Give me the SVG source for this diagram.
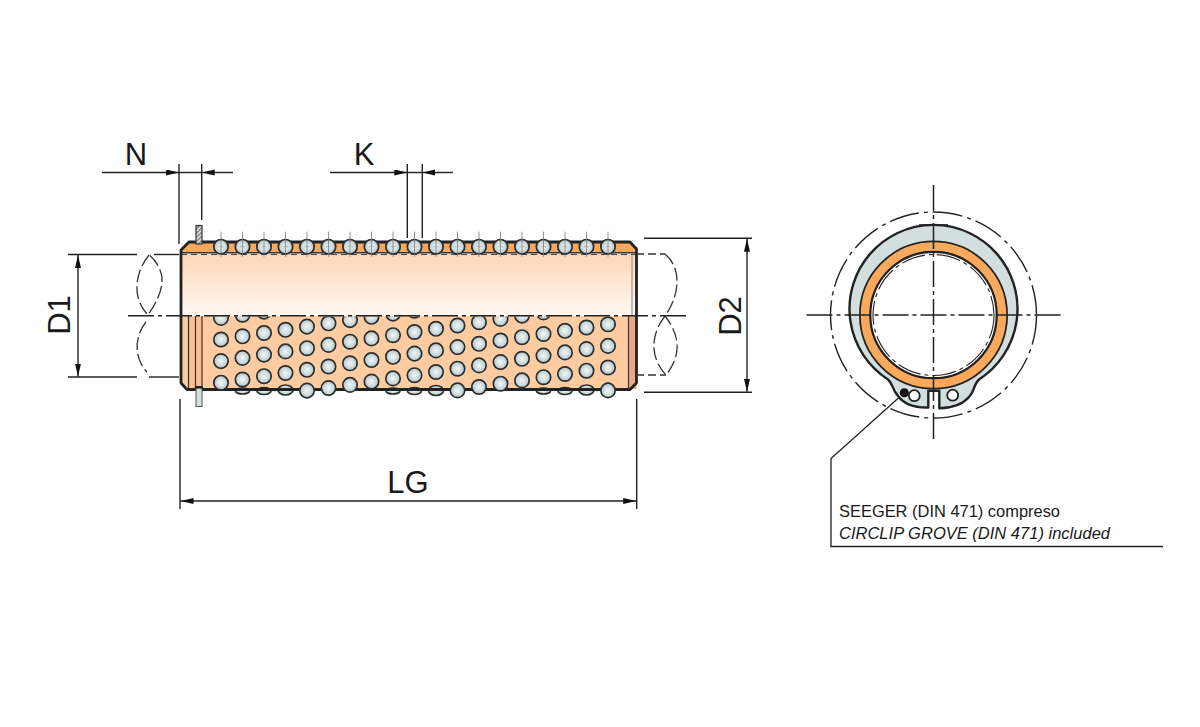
<svg xmlns="http://www.w3.org/2000/svg" width="1200" height="727" viewBox="0 0 1200 727">
<style>
.t{font-family:"Liberation Sans",Arial,sans-serif;fill:#1a1a1a}
.big{font-size:31px}
.small{font-size:17px}
.dim{stroke:#222;stroke-width:1.4;fill:none}
.arr{marker-end:url(#a)}
.brk{stroke:#333;stroke-width:1.3;fill:none;stroke-dasharray:13 4}
.cen{stroke:#222;stroke-width:1.5;fill:none;stroke-dasharray:26 4 4 4}
.out{stroke:#222;stroke-width:2.8;fill:none;stroke-linejoin:round}
.ball{fill:url(#bg);stroke:#2a2e2f;stroke-width:1.7}
</style>
<defs>
<radialGradient id="bg" cx="50%" cy="50%" r="55%"><stop offset="0" stop-color="#f4f8f8"/><stop offset="1" stop-color="#aec3c6"/></radialGradient>
<linearGradient id="up" x1="0" y1="0" x2="0" y2="1"><stop offset="0" stop-color="#ffd6b6"/><stop offset="1" stop-color="#fff8f2"/></linearGradient>
<pattern id="hatch" width="3" height="3" patternUnits="userSpaceOnUse" patternTransform="rotate(45)"><rect width="3" height="3" fill="#e8eded"/><rect width="1.4" height="3" fill="#777"/></pattern>
<marker id="a" markerUnits="userSpaceOnUse" markerWidth="14" markerHeight="8" refX="13" refY="3" orient="auto-start-reverse"><path d="M0,0L13,3L0,6Z" fill="#111"/></marker>
<clipPath id="lower"><rect x="181" y="316.5" width="456" height="85"/></clipPath>
<circle id="b" r="7.2" class="ball"/>
<g id="tb"><circle r="7.2" class="ball"/><line y1="-15" y2="10" stroke="#777" stroke-width="0.8"/><line x1="-2.5" x2="2.5" stroke="#999" stroke-width="0.7"/></g>
</defs>

<g id="bush-body">
<path d="M181,316H636.5V383L630,389.5H187L181,383Z" fill="#ffcba1"/>
<rect x="188" y="316" width="14" height="73" fill="#fbbf90"/>
<rect x="628.5" y="316" width="8" height="73" fill="#e9a882"/>
<path d="M181,315.5V254H636.5V315.5Z" fill="url(#up)"/>
<path d="M181,253V250L189,242H630L636.5,249V253Z" fill="#f9a95c"/>
<g stroke="#333" stroke-width="1.2"><line x1="188.5" y1="316" x2="188.5" y2="389"/><line x1="195.5" y1="316" x2="195.5" y2="389"/><line x1="202" y1="316" x2="202" y2="389"/><line x1="628.5" y1="316" x2="628.5" y2="389"/></g>
<line x1="632" y1="254" x2="632" y2="316" stroke="#999" stroke-width="1.2"/>
<line x1="181" y1="252.8" x2="636" y2="252.8" stroke="#333" stroke-width="1.4"/>
<line x1="181" y1="254.5" x2="636" y2="254.5" stroke="#444" stroke-width="1" stroke-dasharray="6 4"/>
</g>

<g id="balls-lens">
<g class="ball">
<ellipse cx="242.5" cy="391" rx="7" ry="3"/><ellipse cx="264" cy="391" rx="7" ry="3.5"/><ellipse cx="285.5" cy="390" rx="7.5" ry="5"/>
<ellipse cx="393" cy="391" rx="7" ry="3"/><ellipse cx="414.5" cy="391" rx="7" ry="3.5"/><ellipse cx="436" cy="390.5" rx="7.5" ry="5"/>
<ellipse cx="543.5" cy="391" rx="7" ry="3"/><ellipse cx="565" cy="391" rx="7" ry="3.5"/><ellipse cx="586.5" cy="390" rx="7.5" ry="5"/>
</g>
</g>

<g id="bush-outline">
<path class="out" d="M181,316V250L189,242H630L636.5,249V383L630,389.5H187L181,383V316"/>
</g>

<g id="balls-lower" clip-path="url(#lower)">
<use href="#b" x="221" y="382.7"/><use href="#b" x="221" y="361.1"/><use href="#b" x="221" y="339.5"/><use href="#b" x="221" y="317.9"/>
<use href="#b" x="242.5" y="379.5"/><use href="#b" x="242.5" y="357.9"/><use href="#b" x="242.5" y="336.3"/><use href="#b" x="242.5" y="314.7"/>
<use href="#b" x="264" y="376.2"/><use href="#b" x="264" y="354.6"/><use href="#b" x="264" y="333"/><use href="#b" x="264" y="311.6"/>
<use href="#b" x="285.5" y="373"/><use href="#b" x="285.5" y="351.4"/><use href="#b" x="285.5" y="329.8"/>
<use href="#b" x="307" y="390.6"/><use href="#b" x="307" y="369.8"/><use href="#b" x="307" y="348.2"/><use href="#b" x="307" y="326.6"/>
<use href="#b" x="328.5" y="388.1"/><use href="#b" x="328.5" y="366.5"/><use href="#b" x="328.5" y="344.9"/><use href="#b" x="328.5" y="323.3"/>
<use href="#b" x="350" y="384.9"/><use href="#b" x="350" y="363.3"/><use href="#b" x="350" y="341.7"/><use href="#b" x="350" y="320.1"/>
<use href="#b" x="371.5" y="381.6"/><use href="#b" x="371.5" y="360"/><use href="#b" x="371.5" y="338.4"/><use href="#b" x="371.5" y="316.8"/>
<use href="#b" x="393" y="378.4"/><use href="#b" x="393" y="356.8"/><use href="#b" x="393" y="335.2"/><use href="#b" x="393" y="313.6"/>
<use href="#b" x="414.5" y="375.2"/><use href="#b" x="414.5" y="353.6"/><use href="#b" x="414.5" y="332"/><use href="#b" x="414.5" y="310.8"/>
<use href="#b" x="436" y="372"/><use href="#b" x="436" y="350.4"/><use href="#b" x="436" y="328.8"/>
<use href="#b" x="457.5" y="390.4"/><use href="#b" x="457.5" y="368.7"/><use href="#b" x="457.5" y="347.1"/><use href="#b" x="457.5" y="325.5"/>
<use href="#b" x="479" y="387"/><use href="#b" x="479" y="365.4"/><use href="#b" x="479" y="343.8"/><use href="#b" x="479" y="322.2"/>
<use href="#b" x="500.5" y="383.7"/><use href="#b" x="500.5" y="362.1"/><use href="#b" x="500.5" y="340.5"/><use href="#b" x="500.5" y="318.9"/>
<use href="#b" x="522" y="380.4"/><use href="#b" x="522" y="358.8"/><use href="#b" x="522" y="337.2"/><use href="#b" x="522" y="315.6"/>
<use href="#b" x="543.5" y="377.2"/><use href="#b" x="543.5" y="355.6"/><use href="#b" x="543.5" y="334"/><use href="#b" x="543.5" y="312.4"/>
<use href="#b" x="565" y="374"/><use href="#b" x="565" y="352.4"/><use href="#b" x="565" y="330.8"/>
<use href="#b" x="586.5" y="370.7"/><use href="#b" x="586.5" y="349.1"/><use href="#b" x="586.5" y="327.5"/>
<use href="#b" x="608" y="390.4"/><use href="#b" x="608" y="367.5"/><use href="#b" x="608" y="345.9"/><use href="#b" x="608" y="324.3"/>
</g>

<g id="balls-top">
<use href="#tb" x="221" y="246.7"/><use href="#tb" x="242.5" y="246.7"/><use href="#tb" x="264" y="246.7"/><use href="#tb" x="285.5" y="246.7"/><use href="#tb" x="307" y="246.7"/><use href="#tb" x="328.5" y="246.7"/><use href="#tb" x="350" y="246.7"/><use href="#tb" x="371.5" y="246.7"/><use href="#tb" x="393" y="246.7"/><use href="#tb" x="414.5" y="246.7"/><use href="#tb" x="436" y="246.7"/><use href="#tb" x="457.5" y="246.7"/><use href="#tb" x="479" y="246.7"/><use href="#tb" x="500.5" y="246.7"/><use href="#tb" x="522" y="246.7"/><use href="#tb" x="543.5" y="246.7"/><use href="#tb" x="565" y="246.7"/><use href="#tb" x="586.5" y="246.7"/><use href="#tb" x="608" y="246.7"/>
</g>

<g id="circlip-section">
<rect x="196" y="225.5" width="6" height="18.5" fill="url(#hatch)" stroke="#333" stroke-width="1.2"/>
<rect x="196" y="387" width="6" height="19.5" fill="#d5e1e0" stroke="#555" stroke-width="1"/>
<rect x="195" y="386" width="8" height="2.6" fill="#222"/>
</g>

<g id="connectors">
<line class="dim arr" x1="102" y1="172.5" x2="179" y2="172.5"/>
<line class="dim arr" x1="233" y1="172.5" x2="201.7" y2="172.5"/>
<line class="dim" x1="179" y1="172.5" x2="201.7" y2="172.5"/>
<line class="dim" x1="179" y1="164" x2="179" y2="244"/>
<line class="dim" x1="201.7" y1="164" x2="201.7" y2="220"/>
<line class="dim arr" x1="330" y1="172.5" x2="407.3" y2="172.5"/>
<line class="dim arr" x1="453" y1="172.5" x2="422.3" y2="172.5"/>
<line class="dim" x1="407.3" y1="172.5" x2="422.3" y2="172.5"/>
<line class="dim" x1="407.3" y1="164" x2="407.3" y2="238"/>
<line class="dim" x1="422.3" y1="164" x2="422.3" y2="238"/>

<line class="dim" x1="68" y1="254.5" x2="137" y2="254.5"/>
<line class="dim" x1="154" y1="254.5" x2="179" y2="254.5"/>
<line class="dim" x1="68" y1="377" x2="137" y2="377"/>
<line class="dim" x1="149" y1="377" x2="179" y2="377"/>
<line class="dim" x1="78" y1="316" x2="78" y2="255" style="marker-end:url(#a)"/>
<line class="dim" x1="78" y1="316" x2="78" y2="376.5" style="marker-end:url(#a)"/>

<line class="dim" x1="644" y1="238.3" x2="752" y2="238.3"/>
<line class="dim" x1="644" y1="392.3" x2="752" y2="392.3"/>
<line class="dim" x1="747" y1="316" x2="747" y2="238.8" style="marker-end:url(#a)"/>
<line class="dim" x1="747" y1="316" x2="747" y2="391.8" style="marker-end:url(#a)"/>

<line class="dim" x1="180" y1="399" x2="180" y2="509"/>
<line class="dim" x1="636.7" y1="399" x2="636.7" y2="509"/>
<line class="dim" x1="408" y1="501" x2="180.5" y2="501" style="marker-end:url(#a)"/>
<line class="dim" x1="408" y1="501" x2="636.2" y2="501" style="marker-end:url(#a)"/>

<line class="cen" x1="128" y1="315.8" x2="686" y2="315.8"/>
<line x1="636" y1="254" x2="665" y2="254" class="brk" style="stroke-dasharray:8 4"/>
<line x1="636" y1="375" x2="666" y2="375" class="brk" style="stroke-dasharray:8 4"/>
<path class="brk" d="M149,255C133,275 133,300 148,315C155,305 167,285 160,270C158,264 153,258 149,255"/>
<path class="brk" d="M146,322C133,338 135,360 147,372"/>
<path class="brk" d="M665,254C682,268 680,295 665,316C650,335 650,358 666,375C682,355 680,335 665,316"/>

<path fill="none" stroke="#222" stroke-width="1.3" d="M904.3,392.7L831,458.5V546.5H1163"/>
</g>

<g id="end-view">
<circle cx="933.5" cy="315" r="103" fill="none" stroke="#222" stroke-width="1.4" stroke-dasharray="30 5 4 5"/>
<path fill="#d3dfde" stroke="#222" stroke-width="2.4" stroke-linejoin="round" d="M888,379.5A84,84 0 1 1 979,379.5C973,385 975,391 969,397C962,405 952,408 939.3,408.3V390.7H928.3V407.5C914,408 904,404 898,396C892,389 893,384 888,379.5Z"/>
<line x1="919" y1="225" x2="948" y2="225" stroke="#222" stroke-width="1.6"/>
<circle cx="933.5" cy="315" r="68.5" fill="none" stroke="#222" stroke-width="12"/>
<circle cx="933.5" cy="315" r="68.5" fill="none" stroke="#f9a95c" stroke-width="8.5"/>
<circle cx="933.5" cy="315" r="63" fill="#fff" stroke="#222" stroke-width="1.8"/>
<circle cx="933.5" cy="315" r="60.5" fill="none" stroke="#222" stroke-width="1.1" stroke-dasharray="24 4 4 4"/>
<circle cx="914.3" cy="395.7" r="5.5" fill="#fff" stroke="#222" stroke-width="1.8"/>
<circle cx="952.7" cy="395.2" r="5.5" fill="#fff" stroke="#222" stroke-width="1.8"/>
<circle cx="904.3" cy="392.7" r="4.5" fill="#111"/>
<line class="cen" x1="806.5" y1="315" x2="1061.5" y2="315"/>
<line class="cen" x1="933.5" y1="185" x2="933.5" y2="443"/>
</g>

<g id="labels">
<text class="t big" x="136" y="165" text-anchor="middle">N</text>
<text class="t big" x="364" y="165" text-anchor="middle">K</text>
<text class="t big" x="408" y="493" text-anchor="middle">LG</text>
<text class="t big" transform="translate(70,315) rotate(-90)" text-anchor="middle">D1</text>
<text class="t big" transform="translate(741,316) rotate(-90)" text-anchor="middle">D2</text>
<text class="t small" x="839" y="517" textLength="221" lengthAdjust="spacingAndGlyphs">SEEGER (DIN 471) compreso</text>
<text class="t small" x="839" y="539" font-style="italic" textLength="271" lengthAdjust="spacingAndGlyphs">CIRCLIP GROVE (DIN 471) included</text>
</g>
</svg>
